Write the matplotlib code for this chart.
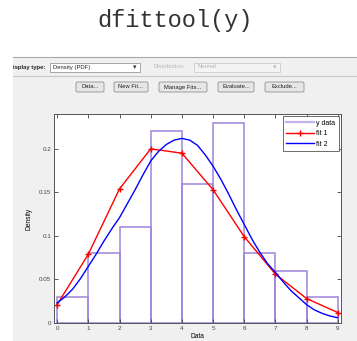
import numpy as np
import matplotlib
matplotlib.use('Agg')
import matplotlib.pyplot as plt
from matplotlib.patches import Rectangle, FancyBboxPatch

# 直方图 (y data)
bin_edges = [0, 1, 2, 3, 4, 5, 6, 7, 8, 9]
hist_density = [0.03, 0.08, 0.11, 0.22, 0.16, 0.23, 0.08, 0.06, 0.03]

# fit 1: 红线, 整数点
fit1_x = [0, 1, 2, 3, 4, 5, 6, 7, 8, 9]
fit1_y = [0.021, 0.079, 0.154, 0.200, 0.195, 0.153, 0.099, 0.056, 0.028, 0.012]

# fit 2: 蓝色平滑曲线
fit2_x = [0, 0.25, 0.5, 0.75, 1, 1.25, 1.5, 1.75, 2, 2.25, 2.5, 2.75, 3,
          3.25, 3.5, 3.75, 4, 4.25, 4.5, 4.75, 5, 5.25, 5.5, 5.75, 6,
          6.25, 6.5, 6.75, 7, 7.25, 7.5, 7.75, 8, 8.25, 8.5, 8.75, 9]
fit2_y = [0.023, 0.030, 0.039, 0.051, 0.065, 0.079, 0.094, 0.108, 0.121,
          0.137, 0.153, 0.170, 0.186, 0.197, 0.205, 0.210, 0.212, 0.210,
          0.204, 0.193, 0.180, 0.165, 0.148, 0.130, 0.113, 0.096, 0.081,
          0.068, 0.058, 0.047, 0.037, 0.029, 0.021, 0.015, 0.011, 0.008,
          0.006]

x_ticks = [0, 1, 2, 3, 4, 5, 6, 7, 8, 9]
y_ticks = [0, 0.05, 0.1, 0.15, 0.2]
y_tick_labels = ['0', '0.05', '0.1', '0.15', '0.2']
button_labels = ['Data...', 'New Fit...', 'Manage Fits...', 'Evaluate...', 'Exclude...']

W, H = 357, 341
fig = plt.figure(figsize=(W / 100, H / 100), dpi=100)
fig.patch.set_facecolor('white')

# 背景层, 像素坐标
bg = fig.add_axes([0, 0, 1, 1], zorder=0)
bg.set_xlim(0, W)
bg.set_ylim(H, 0)
bg.axis('off')

bg.text(175, 20, 'dfittool(y)', family='Liberation Mono', fontsize=17,
        ha='center', va='center', color='#333333')

# 灰色窗口区域
bg.add_patch(Rectangle((13, 57), W - 13, H - 57, facecolor='#f0f0f0',
                       edgecolor='none'))
bg.plot([13, W], [57, 57], color='#a8a8a8', lw=0.8)
bg.plot([13, W], [76, 76], color='#c8c8c8', lw=0.8)

ui_font = 'Liberation Sans'
bg.text(13, 67, 'isplay type:', family=ui_font, fontsize=4.2,
        fontweight='bold', va='center', ha='left', color='#222222')
bg.add_patch(Rectangle((50, 62.5), 90, 9, facecolor='white', edgecolor='#9a9a9a', lw=0.6))
bg.text(53, 67, 'Density (PDF)', family=ui_font, fontsize=4.2, va='center', color='#222222')
bg.text(135, 67, '\u25BE', family='DejaVu Sans', fontsize=5, va='center', ha='center', color='#333333')
bg.text(153, 67, 'Distribution:', family=ui_font, fontsize=4.2, va='center', color='#b8b8b8')
bg.add_patch(Rectangle((194, 62.5), 86, 9, facecolor='#f4f4f4', edgecolor='#cccccc', lw=0.6))
bg.text(197, 67, 'Normal', family=ui_font, fontsize=4.2, va='center', color='#b0b0b0')
bg.text(275, 67, '\u25BE', family='DejaVu Sans', fontsize=5, va='center', ha='center', color='#bbbbbb')

# 按钮
btn_x = [76, 114, 159, 218, 265]
btn_w = [28, 34, 48, 36, 39]
for bx, bw, lab in zip(btn_x, btn_w, button_labels):
    bg.add_patch(FancyBboxPatch((bx, 82), bw, 10, boxstyle='round,pad=0,rounding_size=1.5',
                                facecolor='#e6e6e6', edgecolor='#8f8f8f', lw=0.6))
    bg.text(bx + bw / 2, 87, lab, family=ui_font, fontsize=4.2, ha='center',
            va='center', color='#222222')

# 主坐标轴
ax = fig.add_axes([54 / W, (H - 323) / H, (341 - 54) / W, (323 - 114) / H], zorder=1)
ax.set_facecolor('white')

lefts = bin_edges[:-1]
widths = np.diff(bin_edges)
bars = ax.bar(lefts, hist_density, width=widths, align='edge', facecolor='none',
              edgecolor='#9f84dc', lw=1.1)
l1, = ax.plot(fit1_x, fit1_y, color='#ff0000', lw=1.0, marker='+', markersize=5,
              markeredgewidth=1.0)
l2, = ax.plot(fit2_x, fit2_y, color='#0000ff', lw=1.0)
# 图例用线条表示直方图
hd, = ax.plot([], [], color='#c4b2ee', lw=1.6)

ax.set_xlim(-0.1, 9.1)
ax.set_ylim(0, 0.24)
ax.set_xticks(x_ticks)
ax.set_yticks(y_ticks)
ax.set_yticklabels(y_tick_labels)
ax.tick_params(direction='in', length=3, width=0.6, labelsize=4.5,
               top=True, right=True, colors='#444444', pad=2)
for sp in ax.spines.values():
    sp.set_color('#555555')
    sp.set_linewidth(0.7)
ax.set_xlabel('Data', family=ui_font, fontsize=4.8, labelpad=1.5)
ax.set_ylabel('Density', family=ui_font, fontsize=4.8, labelpad=5)
for t in ax.get_xticklabels() + ax.get_yticklabels():
    t.set_family(ui_font)

leg = ax.legend([hd, l1, l2], ['y data', 'fit 1', 'fit 2'], loc='upper right',
                prop={'family': ui_font, 'size': 5},
                fancybox=False, edgecolor='#555555', framealpha=1,
                handlelength=4.0, borderpad=0.5, labelspacing=0.5,
                handletextpad=0.3, borderaxespad=0.3)
leg.get_frame().set_linewidth(0.6)

fig.savefig('out.png', dpi=100)
